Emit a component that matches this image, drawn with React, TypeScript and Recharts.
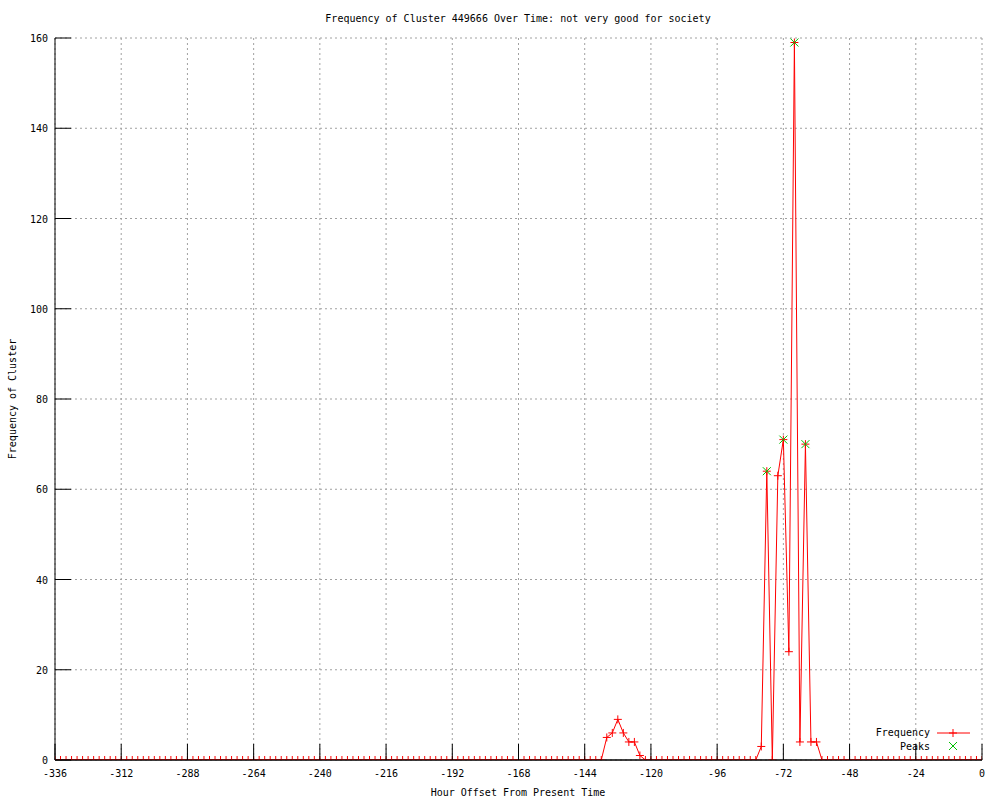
import React from 'react';
import { ComposedChart, Line, Scatter, XAxis, YAxis, CartesianGrid } from 'recharts';

// Hour offsets (categories), every 2 hours
const hours = [
  -336, -334, -332, -330, -328, -326, -324, -322, -320, -318, -316, -314,
  -312, -310, -308, -306, -304, -302, -300, -298, -296, -294, -292, -290,
  -288, -286, -284, -282, -280, -278, -276, -274, -272, -270, -268, -266,
  -264, -262, -260, -258, -256, -254, -252, -250, -248, -246, -244, -242,
  -240, -238, -236, -234, -232, -230, -228, -226, -224, -222, -220, -218,
  -216, -214, -212, -210, -208, -206, -204, -202, -200, -198, -196, -194,
  -192, -190, -188, -186, -184, -182, -180, -178, -176, -174, -172, -170,
  -168, -166, -164, -162, -160, -158, -156, -154, -152, -150, -148, -146,
  -144, -142, -140, -138, -136, -134, -132, -130, -128, -126, -124, -122,
  -120, -118, -116, -114, -112, -110, -108, -106, -104, -102, -100, -98,
  -96, -94, -92, -90, -88, -86, -84, -82, -80, -78, -76, -74,
  -72, -70, -68, -66, -64, -62, -60, -58, -56, -54, -52, -50,
  -48, -46, -44, -42, -40, -38, -36, -34, -32, -30, -28, -26,
  -24, -22, -20, -18, -16, -14, -12, -10, -8, -6, -4, -2,
  0,
];

const frequency = [
  0, 0, 0, 0, 0, 0, 0, 0, 0, 0, 0, 0,
  0, 0, 0, 0, 0, 0, 0, 0, 0, 0, 0, 0,
  0, 0, 0, 0, 0, 0, 0, 0, 0, 0, 0, 0,
  0, 0, 0, 0, 0, 0, 0, 0, 0, 0, 0, 0,
  0, 0, 0, 0, 0, 0, 0, 0, 0, 0, 0, 0,
  0, 0, 0, 0, 0, 0, 0, 0, 0, 0, 0, 0,
  0, 0, 0, 0, 0, 0, 0, 0, 0, 0, 0, 0,
  0, 0, 0, 0, 0, 0, 0, 0, 0, 0, 0, 0,
  0, 0, 0, 0, 5, 6, 9, 6, 4, 4, 1, 0,
  0, 0, 0, 0, 0, 0, 0, 0, 0, 0, 0, 0,
  0, 0, 0, 0, 0, 0, 0, 0, 3, 64, 0, 63,
  71, 24, 159, 4, 70, 4, 4, 0, 0, 0, 0, 0,
  0, 0, 0, 0, 0, 0, 0, 0, 0, 0, 0, 0,
  0, 0, 0, 0, 0, 0, 0, 0, 0, 0, 0, 0,
  0,
];

const peakHours = [-78, -72, -68, -64];
const peakValues = [64, 71, 159, 70];

const xTicks = [-336, -312, -288, -264, -240, -216, -192, -168, -144, -120, -96, -72, -48, -24, 0];
const yTicks = [0, 20, 40, 60, 80, 100, 120, 140, 160];

const TITLE = 'Frequency of Cluster 449666 Over Time: not very good for society';
const X_LABEL = 'Hour Offset From Present Time';
const Y_LABEL = 'Frequency of Cluster';
const SERIES_NAMES = ['Frequency', 'Peaks'];

const rows = hours.map((h, i) => ({ hour: h, freq: frequency[i] }));
const peakRows = peakHours.map((h, i) => ({ hour: h, peak: peakValues[i] }));

const FONT = '"DejaVu Sans Mono", "Liberation Mono", monospace';
const RED = '#ff0000';
const GREEN = '#00c000';
const TICK = 16;

const PlusDot = (props: any) => {
  const { cx, cy, index } = props;
  if (cx == null || cy == null) return <g key={`p${index}`} />;
  return (
    <g key={`p${index}`}>
      <line x1={cx - 4} y1={cy} x2={cx + 4} y2={cy} stroke={RED} strokeWidth={1} />
      <line x1={cx} y1={cy - 4} x2={cx} y2={cy + 4} stroke={RED} strokeWidth={1} />
    </g>
  );
};

const CrossShape = (props: any) => {
  const { cx, cy } = props;
  if (cx == null || cy == null) return <g />;
  return (
    <g>
      <line x1={cx - 4} y1={cy - 4} x2={cx + 4} y2={cy + 4} stroke={GREEN} strokeWidth={1} />
      <line x1={cx - 4} y1={cy + 4} x2={cx + 4} y2={cy - 4} stroke={GREEN} strokeWidth={1} />
    </g>
  );
};

const BottomTick = (props: any) => {
  const { x, y, payload } = props;
  return (
    <g>
      <line x1={x} y1={y} x2={x} y2={y - TICK} stroke="#000" />
      <text x={x} y={y + 17} textAnchor="middle" fontFamily={FONT} fontSize={10} fill="#000">
        {payload.value}
      </text>
    </g>
  );
};

const TopTick = (props: any) => {
  const { x, y } = props;
  return <line x1={x} y1={y} x2={x} y2={y + TICK} stroke="#000" />;
};

const LeftTick = (props: any) => {
  const { x, y, payload } = props;
  return (
    <g>
      <line x1={x} y1={y} x2={x + TICK} y2={y} stroke="#000" />
      <text x={x - 7} y={y + 4} textAnchor="end" fontFamily={FONT} fontSize={10} fill="#000">
        {payload.value}
      </text>
    </g>
  );
};

const RightTick = (props: any) => {
  const { x, y } = props;
  return <line x1={x} y1={y} x2={x - TICK} y2={y} stroke="#000" />;
};

export default function App() {
  return (
    <div style={{ position: 'absolute', left: 0, top: 0, width: 1000, height: 800, background: '#fff' }}>
      <ComposedChart
        width={1000}
        height={800}
        data={rows}
        margin={{ top: 38, right: 18, bottom: 0, left: 0 }}
      >
        <CartesianGrid stroke="#a0a0a0" strokeDasharray="2 3" />
        <XAxis
          dataKey="hour"
          type="number"
          domain={[-336, 0]}
          ticks={xTicks}
          interval={0}
          height={40}
          tickSize={0}
          tickMargin={0}
          tick={BottomTick}
          tickLine={false}
          axisLine={{ stroke: '#000' }}
          allowDataOverflow
        />
        <XAxis
          xAxisId="top"
          orientation="top"
          dataKey="hour"
          type="number"
          domain={[-336, 0]}
          ticks={xTicks}
          interval={0}
          height={0}
          tickSize={0}
          tickMargin={0}
          tick={TopTick}
          tickLine={false}
          axisLine={{ stroke: '#000' }}
          allowDataOverflow
        />
        <YAxis
          type="number"
          domain={[0, 160]}
          ticks={yTicks}
          interval={0}
          width={55}
          tickSize={0}
          tickMargin={0}
          tick={LeftTick}
          tickLine={false}
          axisLine={{ stroke: '#000' }}
          allowDataOverflow
        />
        <YAxis
          yAxisId="right"
          orientation="right"
          type="number"
          domain={[0, 160]}
          ticks={yTicks}
          interval={0}
          width={0}
          tickSize={0}
          tickMargin={0}
          tick={RightTick}
          tickLine={false}
          axisLine={{ stroke: '#000' }}
          allowDataOverflow
        />
        <Line
          type="linear"
          dataKey="freq"
          stroke={RED}
          strokeWidth={1}
          dot={PlusDot}
          activeDot={false}
          isAnimationActive={false}
        />
        <Scatter data={peakRows} dataKey="peak" shape={CrossShape} isAnimationActive={false} />
      </ComposedChart>
      <svg
        width={1000}
        height={800}
        style={{ position: 'absolute', left: 0, top: 0, pointerEvents: 'none' }}
      >
        {/* bottom border of the plot frame, drawn over the zero-valued data line as in the original */}
        <line x1={55} y1={760} x2={982} y2={760} stroke="#000" strokeWidth={1.2} />
        <text x={518} y={22} textAnchor="middle" fontFamily={FONT} fontSize={10} fill="#000">
          {TITLE}
        </text>
        <text x={518} y={796} textAnchor="middle" fontFamily={FONT} fontSize={10} fill="#000">
          {X_LABEL}
        </text>
        <text
          x={0}
          y={0}
          transform="translate(16 399) rotate(-90)"
          textAnchor="middle"
          fontFamily={FONT}
          fontSize={10}
          fill="#000"
        >
          {Y_LABEL}
        </text>
        <text x={930} y={736} textAnchor="end" fontFamily={FONT} fontSize={10} fill="#000">
          {SERIES_NAMES[0]}
        </text>
        <line x1={937} y1={733} x2={970} y2={733} stroke={RED} />
        <line x1={949} y1={733} x2={957} y2={733} stroke={RED} />
        <line x1={953} y1={729} x2={953} y2={737} stroke={RED} />
        <text x={930} y={750} textAnchor="end" fontFamily={FONT} fontSize={10} fill="#000">
          {SERIES_NAMES[1]}
        </text>
        <line x1={949} y1={742} x2={957} y2={750} stroke={GREEN} />
        <line x1={949} y1={750} x2={957} y2={742} stroke={GREEN} />
      </svg>
    </div>
  );
}
